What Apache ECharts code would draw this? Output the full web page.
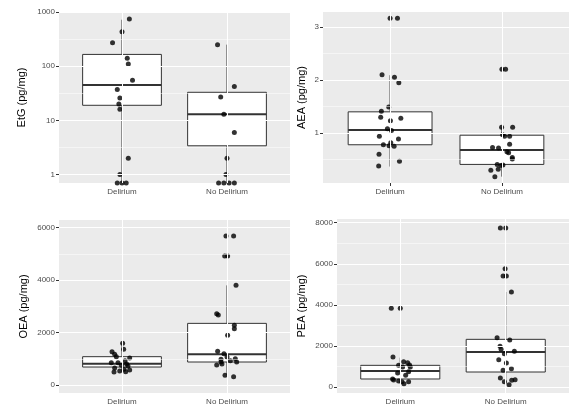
<!DOCTYPE html>
<html><head><meta charset="utf-8">
<script src="https://cdn.jsdelivr.net/npm/echarts@6/dist/echarts.min.js"></script>
<style>html,body{margin:0;padding:0;background:#fff}#c{width:588px;height:412px}</style>
</head><body><div id="c"></div>
<script>
var groups = ['Delirium','No Delirium'];
// box stats: [low, Q1, median, Q3, high] per group
var etgBox = [[0.7,19,45,165,720],[0.7,3.4,13,33,250]];
var etgPts = [[0.07,740],[0,430],[-0.09,270],[0.05,140],[0.06,110],[0.10,55],[-0.045,37],[-0.02,26],[-0.03,20],[-0.02,16],[0.06,2],[-0.02,1],[-0.045,0.7],[0,0.7],[0.04,0.7],
  [0.91,250],[1.07,42],[0.94,27],[0.97,13],[1.07,6],[1.0,2],[0.99,1],[0.92,0.7],[0.97,0.7],[1.02,0.7],[1.07,0.7]];
var aeaBox = [[0.37,0.78,1.06,1.40,2.09],[0.18,0.41,0.68,0.96,1.11]];
var aeaPts = [[0,3.16],[0.066,3.16],[-0.072,2.10],[0.039,2.05],[0.078,1.95],[-0.012,1.49],[-0.078,1.41],[0.096,1.28],[-0.084,1.30],[0.003,1.23],[-0.024,1.08],[0.012,1.05],[-0.096,0.94],[0.075,0.89],[-0.06,0.78],[0.006,0.82],[-0.009,0.76],[0.036,0.75],[-0.099,0.60],[0.084,0.47],[-0.102,0.38],
  [1.0,2.20],[1.033,2.20],[0.997,1.11],[1.096,1.11],[1.006,0.97],[1.024,0.94],[1.069,0.94],[1.069,0.79],[0.916,0.73],[0.97,0.72],[1.045,0.65],[1.06,0.63],[1.093,0.54],[1.093,0.51],[0.958,0.41],[0.991,0.39],[1.009,0.40],[0.967,0.32],[0.901,0.30],[0.937,0.18]];
var oeaBox = [[496,686,813,1080,1614],[369,877,1169,2351,3800]];
var oeaPts = [[0.006,1589],[0.016,1360],[-0.095,1271],[-0.07,1169],[-0.054,1080],[0.073,1030],[0.029,928],[-0.102,852],[-0.038,852],[0.044,801],[-0.006,750],[0.057,725],[-0.07,648],[0.073,572],[0.019,597],[-0.022,534],[-0.076,496],[0.035,508],
  [0.99,5681],[1.063,5681],[0.978,4919],[1.006,4919],[1.086,3800],[0.902,2720],[0.917,2669],[1.07,2275],[1.07,2148],[1.006,1894],[0.911,1284],[0.971,1195],[1.0,1068],[0.943,979],[1.079,1004],[1.032,928],[0.943,877],[1.092,877],[0.902,763],[0.952,801],[0.981,369],[1.063,318]];
var peaBox = [[162,390,779,1055,1428],[114,730,1704,2321,4626]];
var peaPts = [[-0.085,3830],[0,3830],[-0.069,1461],[0.032,1233],[0.07,1185],[0.088,1071],[-0.016,1055],[0.095,974],[0.022,974],[-0.025,682],[0.079,747],[0.051,568],[-0.073,390],[-0.063,341],[-0.016,292],[0.016,260],[0.079,260],[0.035,162],
  [0.949,7742],[1.0,7742],[0.994,5762],[0.975,5405],[1.006,5405],[1.054,4626],[0.918,2402],[1.038,2288],[0.946,1980],[0.956,1834],[1.082,1737],[0.987,1623],[0.934,1331],[1.006,1169],[1.054,893],[0.975,811],[0.949,438],[1.057,325],[1.089,357],[0.987,260],[1.032,114]];

var panels = [
  {title:'EtG (pg/mg)', box:etgBox, pts:etgPts, log:true, min:-0.155, max:3.0, major:[0,1,2,3], minor:[0.5,1.5,2.5], grid:{left:59,top:12,width:231,height:171}},
  {title:'AEA (pg/mg)', box:aeaBox, pts:aeaPts, min:0.06, max:3.28, major:[1,2,3], minor:[0.5,1.5,2.5], grid:{left:323,top:12,width:246,height:171}},
  {title:'OEA (pg/mg)', box:oeaBox, pts:oeaPts, min:-305, max:6293, major:[0,2000,4000,6000], minor:[1000,3000,5000], grid:{left:59,top:220,width:231,height:173}},
  {title:'PEA (pg/mg)', box:peaBox, pts:peaPts, min:-292, max:8180, major:[0,2000,4000,6000,8000], minor:[1000,3000,5000,7000], grid:{left:337,top:219,width:232,height:174}}
];

var option = {animation:false, grid:[], xAxis:[], yAxis:[], series:[]};
panels.forEach(function(p,i){
  var tf = p.log ? function(v){return Math.log10(v);} : function(v){return v;};
  option.grid.push(Object.assign({show:true, backgroundColor:'#ebebeb', borderWidth:0}, p.grid));
  option.xAxis.push({type:'value', gridIndex:i, min:0.4, max:2.6,
    axisLine:{show:false}, splitLine:{show:false},
    axisTick:{show:true, customValues:[1,2], length:3, lineStyle:{color:'#333'}},
    axisLabel:{customValues:[1,2], color:'#4d4d4d', fontSize:8, fontFamily:'Liberation Sans', margin:5,
      formatter:function(v){return Math.abs(v-1)<1e-6?groups[0]:groups[1];}}});
  option.yAxis.push({type:'value', gridIndex:i, min:p.min, max:p.max, name:p.title, nameLocation:'middle',
    nameGap: p.log?32:(i==1?16:(i==2?30:30)), nameTextStyle:{color:'#000', fontSize:11, fontFamily:'Liberation Sans'},
    axisLine:{show:false}, splitLine:{show:false},
    axisTick:{show:true, customValues:p.major, length:3, lineStyle:{color:'#333'}},
    axisLabel:{customValues:p.major, color:'#4d4d4d', fontSize:8, fontFamily:'Liberation Sans', margin:4,
      formatter:function(v){return p.log?String(Math.round(Math.pow(10,v))):String(Math.round(v));}}});
  var ml = [];
  p.minor.forEach(function(v){ml.push({yAxis:v, lineStyle:{color:'#fff',width:0.5,type:'solid'}});});
  p.major.forEach(function(v){ml.push({yAxis:v, lineStyle:{color:'#fff',width:1,type:'solid'}});});
  [1,2].forEach(function(v){ml.push({xAxis:v, lineStyle:{color:'#fff',width:1,type:'solid'}});});
  option.series.push({type:'scatter', xAxisIndex:i, yAxisIndex:i, data:[], z:1, silent:true,
    markLine:{silent:true, symbol:'none', label:{show:false}, animation:false, data:ml}});
  var bdata = p.box.map(function(b,g){return [g+1].concat(b.map(tf));});
  option.series.push({type:'custom', xAxisIndex:i, yAxisIndex:i, z:2, data:bdata,
    renderItem:function(params, api){
      var x = api.value(0), hw = 0.375;
      var lo=api.coord([x,api.value(1)]), q1=api.coord([x,api.value(2)]), md=api.coord([x,api.value(3)]), q3=api.coord([x,api.value(4)]), hi=api.coord([x,api.value(5)]);
      var L = api.coord([x-hw,0])[0], R = api.coord([x+hw,0])[0];
      var st = {stroke:'#333', lineWidth:1};
      return {type:'group', children:[
        {type:'line', shape:{x1:lo[0],y1:lo[1],x2:q1[0],y2:q1[1]}, style:st},
        {type:'line', shape:{x1:q3[0],y1:q3[1],x2:hi[0],y2:hi[1]}, style:st},
        {type:'rect', shape:{x:L,y:q3[1],width:R-L,height:q1[1]-q3[1]}, style:{fill:'#fff',stroke:'#333',lineWidth:1}},
        {type:'line', shape:{x1:L,y1:md[1],x2:R,y2:md[1]}, style:{stroke:'#333',lineWidth:2}}
      ]};
    }});
  option.series.push({type:'scatter', xAxisIndex:i, yAxisIndex:i, z:3, symbolSize:5,
    itemStyle:{color:'#000'}, data:p.pts.map(function(q){return [1+q[0], tf(q[1])];})});
});
echarts.init(document.getElementById('c')).setOption(option);
</script></body></html>
